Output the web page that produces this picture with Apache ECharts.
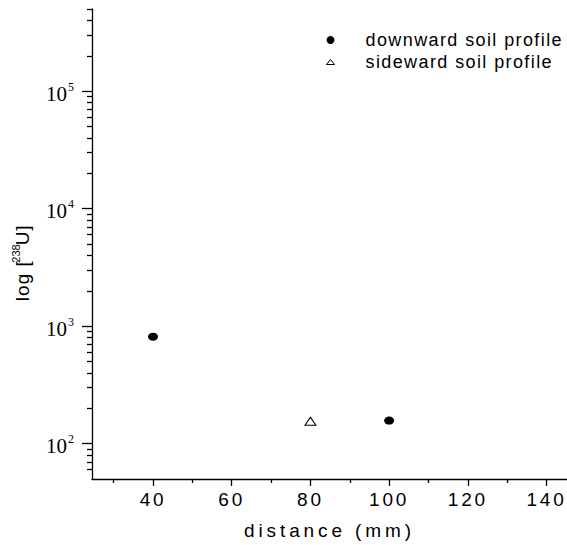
<!DOCTYPE html>
<html><head><meta charset="utf-8">
<script src="https://cdn.jsdelivr.net/npm/echarts@6/dist/echarts.min.js"></script>
<style>html,body{margin:0;padding:0;background:#fff}#c{width:567px;height:545px}</style>
</head><body><div id="c"></div>
<script>
const seriesNames = ['downward soil profile', 'sideward soil profile'];
const downwardX = [40, 100];
const downwardY = [813, 157];
const sidewardX = [80];
const sidewardY = [155];
const xTickValues = [40, 60, 80, 100, 120, 140];
const xMinorTickValues = [30, 50, 70, 90, 110, 130];
const yTickValues = [100, 1000, 10000, 100000];
const yTickExponents = ['2', '3', '4', '5'];
const yMinorTickValues = [60, 70, 80, 90, 200, 300, 400, 500, 600, 700, 800, 900,
  2000, 3000, 4000, 5000, 6000, 7000, 8000, 9000,
  20000, 30000, 40000, 50000, 60000, 70000, 80000, 90000,
  200000, 300000, 400000, 500000];
const xAxisTitle = 'distance (mm)';
const yAxisTitleParts = ['log [', '238', 'U]'];

const SANS = 'Liberation Sans';
const SERIF = 'Liberation Serif';
const X_MIN = 24.5, X_MAX = 145.2, Y_MIN = 50, Y_MAX = 500000;
const LINE = {color: '#000', width: 1.3};

const dom = document.getElementById('c');
const chart = echarts.init(dom, null, {renderer: 'svg'});

const circlePath = 'path://M0,5A5,5,0,1,1,10,5A5,5,0,1,1,0,5Z';

chart.setOption({
  animation: false,
  backgroundColor: '#fff',
  grid: {left: 92, right: 0, top: 9, bottom: 63, containLabel: false},
  legend: {
    orient: 'vertical', left: 321, top: 26, padding: 5, itemWidth: 8, itemHeight: 8, itemGap: 4,
    selectedMode: false,
    textStyle: {fontFamily: SANS, fontSize: 18, color: '#000', padding: [0, 0, 0, 26], lineHeight: 18},
    data: [
      {name: seriesNames[0], icon: 'circle', itemStyle: {color: '#000', opacity: 1}},
      {name: seriesNames[1], icon: 'path://M0,5L4,0L8,5Z', itemStyle: {color: '#fff', borderColor: '#000', borderWidth: 1, opacity: 1}}
    ]
  },
  xAxis: [{
    type: 'value', min: X_MIN, max: X_MAX, position: 'bottom',
    name: xAxisTitle, nameLocation: 'middle', nameGap: 42,
    nameTextStyle: {fontFamily: SANS, fontSize: 19, color: '#000'},
    axisLine: {show: true, onZero: false, lineStyle: LINE},
    axisTick: {show: true, inside: false, length: 7, customValues: xTickValues, lineStyle: LINE},
    axisLabel: {show: true, margin: 11, customValues: xTickValues, fontFamily: SANS, fontSize: 19, color: '#000'},
    splitLine: {show: false}
  }, {
    type: 'value', min: X_MIN, max: X_MAX, position: 'bottom',
    axisLine: {show: false, onZero: false},
    axisTick: {show: true, inside: false, length: 4, customValues: xMinorTickValues, lineStyle: LINE},
    axisLabel: {show: false},
    splitLine: {show: false}
  }],
  yAxis: [{
    type: 'log', logBase: 10, min: Y_MIN, max: Y_MAX, position: 'left',
    name: '{n|' + yAxisTitleParts[0] + '}{s|' + yAxisTitleParts[1] + '}{n|' + yAxisTitleParts[2] + '}',
    nameLocation: 'middle', nameGap: 58,
    nameTextStyle: {
      fontFamily: SANS, fontSize: 19, color: '#000', padding: [0, 36, 0, 0],
      rich: {
        n: {fontFamily: SANS, fontSize: 19, lineHeight: 24, color: '#000'},
        s: {fontFamily: SANS, fontSize: 11, lineHeight: 11, verticalAlign: 'top', color: '#000'}
      }
    },
    axisLine: {show: true, onZero: false, lineStyle: LINE},
    axisTick: {show: true, inside: false, length: 10, customValues: yTickValues, lineStyle: LINE},
    axisLabel: {
      show: true, margin: 18, customValues: yTickValues, padding: [5, 0, 0, 0],
      fontFamily: SERIF, fontSize: 21, color: '#000',
      formatter: function (v) {
        const i = yTickValues.indexOf(v);
        return '{b|10}{s|' + yTickExponents[i] + '}';
      },
      rich: {
        b: {fontFamily: SERIF, fontSize: 21, lineHeight: 26, color: '#000'},
        s: {fontFamily: SERIF, fontSize: 12, lineHeight: 12, verticalAlign: 'top', padding: [0, 0, 0, 1], color: '#000'}
      }
    },
    splitLine: {show: false}
  }, {
    type: 'log', logBase: 10, min: Y_MIN, max: Y_MAX, position: 'left',
    axisLine: {show: false, onZero: false},
    axisTick: {show: true, inside: false, length: 5, customValues: yMinorTickValues, lineStyle: LINE},
    axisLabel: {show: false},
    splitLine: {show: false}
  }],
  series: [{
    name: seriesNames[0], type: 'scatter', xAxisIndex: 0, yAxisIndex: 0,
    symbol: circlePath, symbolSize: [10, 8],
    itemStyle: {color: '#000', opacity: 1},
    data: downwardX.map((x, i) => [x, downwardY[i]])
  }, {
    name: seriesNames[1], type: 'scatter', xAxisIndex: 0, yAxisIndex: 0,
    symbol: 'triangle', symbolSize: [11, 8],
    itemStyle: {color: '#fff', borderColor: '#000', borderWidth: 1, opacity: 1},
    data: sidewardX.map((x, i) => [x, sidewardY[i]])
  }]
});

function applySpacing() {
  dom.querySelectorAll('text').forEach(t => {
    const s = t.textContent;
    let ls = null;
    if (s === xAxisTitle) ls = '3.9px';
    else if (seriesNames.indexOf(s) >= 0) ls = '1.4px';
    else if (/^\d+$/.test(s) && xTickValues.indexOf(+s) >= 0) ls = '2.8px';
    else if (s === yAxisTitleParts[0] || s === yAxisTitleParts[2]) ls = '1px';
    if (ls) t.style.letterSpacing = ls;
  });
}
chart.on('finished', applySpacing);
applySpacing();
</script>
</body></html>
